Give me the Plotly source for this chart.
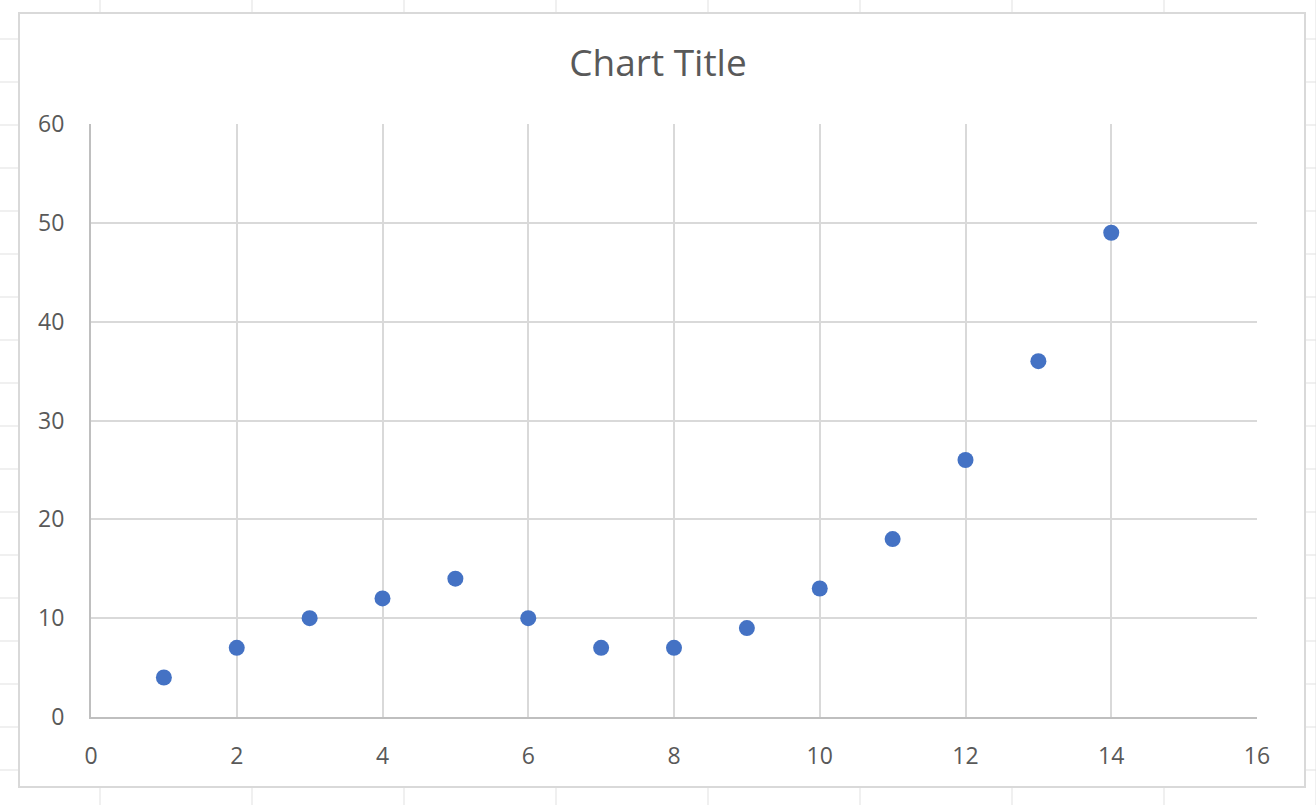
import plotly.graph_objects as go

x_values = [1, 2, 3, 4, 5, 6, 7, 8, 9, 10, 11, 12, 13, 14]
y_values = [4, 7, 10, 12, 14, 10, 7, 7, 9, 13, 18, 26, 36, 49]
x_ticks = [0, 2, 4, 6, 8, 10, 12, 14, 16]
y_ticks = [0, 10, 20, 30, 40, 50, 60]
title_text = "Chart Title"

W, H = 1316, 805
L, R, T, B = 91, 1257, 124, 717


def px_x(p):
    return (p - L) / (R - L)


def px_y(p):
    return (B - p) / (B - T)


shapes = []
# spreadsheet cell grid behind the chart
for k in range(-1, 20):
    yy = 39 + 43 * k
    if 0 <= yy <= H:
        shapes.append(dict(type="line", xref="paper", yref="paper", layer="below",
                           x0=px_x(0), x1=px_x(W), y0=px_y(yy), y1=px_y(yy),
                           line=dict(color="#e1e1e1", width=1)))
for k in range(-1, 10):
    xx = 100 + 152 * k
    if 0 <= xx <= W:
        shapes.append(dict(type="line", xref="paper", yref="paper", layer="below",
                           x0=px_x(xx), x1=px_x(xx), y0=px_y(0), y1=px_y(H),
                           line=dict(color="#e1e1e1", width=1)))
# chart area
shapes.append(dict(type="rect", xref="paper", yref="paper", layer="below",
                   x0=px_x(19), x1=px_x(1305), y0=px_y(13), y1=px_y(787),
                   fillcolor="white", line=dict(color="#d9d9d9", width=2)))

fig = go.Figure(go.Scatter(
    x=x_values, y=y_values, mode="markers",
    marker=dict(color="#4472C4", size=16, line=dict(width=0)),
))

fig.update_layout(
    width=W, height=H,
    margin=dict(l=L, r=W - R, t=T, b=H - B),
    paper_bgcolor="white", plot_bgcolor="rgba(0,0,0,0)",
    showlegend=False,
    title=dict(text=title_text, x=0.5, xanchor="center", y=1 - 63 / H, yanchor="middle",
               font=dict(family="Open Sans", size=37, color="#595959")),
    font=dict(family="Open Sans", size=23, color="#595959"),
    shapes=shapes,
    xaxis=dict(range=[0, 16], tickvals=x_ticks, showgrid=True, gridcolor="#d9d9d9", gridwidth=2,
               showline=True, linecolor="#bfbfbf", linewidth=2, zeroline=False,
               ticks="", ticklabelstandoff=17, mirror=False),
    yaxis=dict(range=[0, 60], tickvals=y_ticks, showgrid=True, gridcolor="#d9d9d9", gridwidth=2,
               showline=True, linecolor="#bfbfbf", linewidth=2, zeroline=False,
               ticks="", ticklabelstandoff=20),
)

fig.write_html("out.html")
